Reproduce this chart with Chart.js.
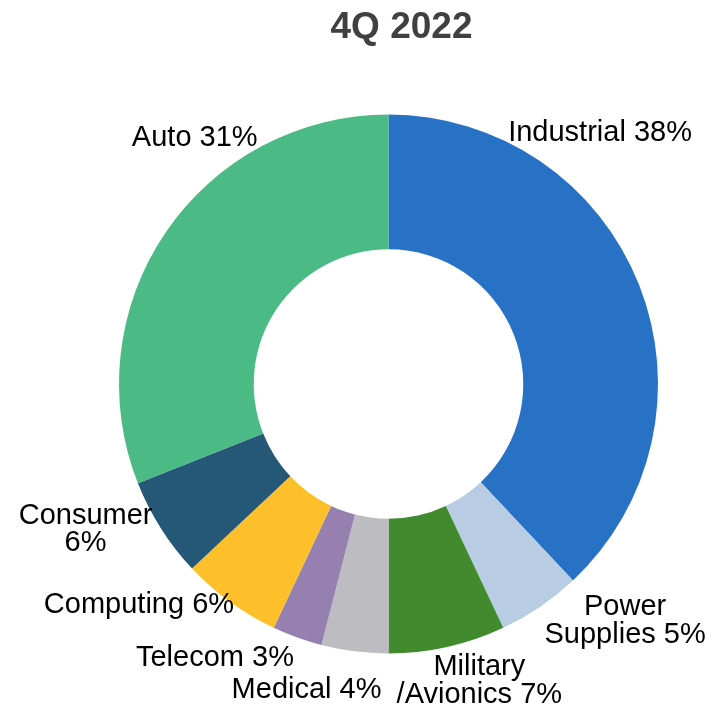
<!DOCTYPE html>
<html>
<head>
<meta charset="utf-8">
<title>4Q 2022</title>
<script src="https://cdn.jsdelivr.net/npm/chart.js@4/dist/chart.umd.min.js"></script>
<style>
  html, body { margin: 0; padding: 0; background: #ffffff; }
  #wrap { position: relative; width: 718px; height: 714px; }
</style>
</head>
<body>
<div id="wrap"><canvas id="chart" width="718" height="714"></canvas></div>
<script>
// Market segments, clockwise from 12 o'clock
const categories = ['Industrial', 'Power Supplies', 'Military/Avionics', 'Medical', 'Telecom', 'Computing', 'Consumer', 'Auto'];
const shares = [38, 5, 7, 4, 3, 6, 6, 31];
// Label text lines for each segment (the value is appended to the last line)
const labelLines = [
  ['Industrial'],
  ['Power', 'Supplies'],
  ['Military', '/Avionics'],
  ['Medical'],
  ['Telecom'],
  ['Computing'],
  ['Consumer', ''],
  ['Auto']
];
const titleText = '4Q 2022';

const colors = ['#2872c6', '#b8cce4', '#418a2e', '#bdbcc1', '#9580b0', '#fec02a', '#255877', '#4bba85'];

// Label anchors relative to the ring centre, in units of the outer radius
const labelAnchors = [
  [0.785, -0.93], [0.878, 0.88], [0.337, 1.102], [-0.304, 1.137],
  [-0.644, 1.015], [-0.926, 0.819], [-1.124, 0.539], [-0.719, -0.911]
];

const labelPlugin = {
  id: 'segmentLabels',
  afterDraw(chart) {
    const ctx = chart.ctx;
    const meta = chart.getDatasetMeta(0);
    const arc0 = meta.data[0];
    const cx = arc0.x, cy = arc0.y, R = arc0.outerRadius;
    ctx.save();
    ctx.fillStyle = '#000000';
    ctx.font = '29px "Liberation Sans", Arial, sans-serif';
    ctx.textAlign = 'center';
    ctx.textBaseline = 'middle';
    const lh = 27.5;
    shares.forEach((v, i) => {
      const lines = labelLines[i].slice();
      const last = lines.length - 1;
      lines[last] = (lines[last] ? lines[last] + ' ' : '') + v + '%';
      const ax = cx + labelAnchors[i][0] * R;
      const ay = cy + labelAnchors[i][1] * R;
      const y0 = ay - (lines.length - 1) * lh / 2;
      lines.forEach((t, k) => ctx.fillText(t, ax, y0 + k * lh));
    });
    // chart title
    ctx.fillStyle = '#404040';
    ctx.font = 'bold 37px "Liberation Sans", Arial, sans-serif';
    ctx.fillText(titleText, cx + 13, 28);
    ctx.restore();
  }
};

new Chart(document.getElementById('chart'), {
  type: 'doughnut',
  data: {
    labels: categories,
    datasets: [{
      data: shares,
      backgroundColor: colors,
      borderWidth: 0,
      hoverOffset: 0
    }]
  },
  options: {
    responsive: false,
    animation: false,
    cutout: '50%',
    layout: { padding: { left: 119, right: 60, top: 114, bottom: 60 } },
    plugins: {
      legend: { display: false },
      tooltip: { enabled: false },
      title: { display: false }
    },
    events: []
  },
  plugins: [labelPlugin]
});
</script>
</body>
</html>
